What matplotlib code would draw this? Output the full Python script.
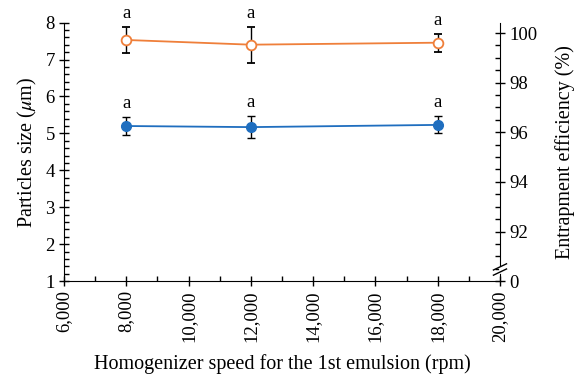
"""Particle size and entrapment efficiency vs homogenizer speed"""
import numpy as np
import matplotlib
matplotlib.use('Agg')
import matplotlib.pyplot as plt
from matplotlib.ticker import MultipleLocator, FuncFormatter

plt.rcParams['font.family'] = ['Liberation Serif', 'DejaVu Serif']
plt.rcParams['mathtext.fontset'] = 'stix'

speed = [8000, 12000, 18000]
size_mean = [5.20, 5.17, 5.23]
size_err = [0.24, 0.30, 0.23]
ee_mean = [99.72, 99.53, 99.61]
ee_err = [0.52, 0.72, 0.36]
letters_size = ['a', 'a', 'a']
letters_ee = ['a', 'a', 'a']

BLUE = '#1f6ebf'
ORANGE = '#ef7f3a'
FS = 13.5
LFS = 14.5

fig = plt.figure(figsize=(5.76, 3.83), dpi=100)
ax = fig.add_axes([0.111, 0.266, 0.757, 0.675])
ax2 = ax.twinx()

# particle size (left axis)
ax.errorbar(speed, size_mean, yerr=size_err, color=BLUE, ecolor='black',
            elinewidth=1, capsize=3, capthick=1, lw=1.3, marker='o', ms=7,
            mfc=BLUE, mec=BLUE, zorder=3)
for x, y, e, t in zip(speed, size_mean, size_err, letters_size):
    ax.annotate(t, (x, y + e), textcoords='offset points', xytext=(0, 6.5),
                ha='center', va='baseline', fontsize=FS)

# entrapment efficiency (right axis)
ax2.errorbar(speed, ee_mean, yerr=ee_err, color=ORANGE, ecolor='black',
             elinewidth=1, capsize=3, capthick=1, lw=1.3, marker='o', ms=7,
             mfc='white', mec=ORANGE, mew=1.3, zorder=3)
for x, y, e, t in zip(speed, ee_mean, ee_err, letters_ee):
    ax2.annotate(t, (x, y + e), textcoords='offset points', xytext=(0, 6.5),
                 ha='center', va='baseline', fontsize=FS)

ax.set_xlim(6000, 20000)
ax.set_ylim(1, 8)
ax2.set_ylim(90, 100.42)

ax.xaxis.set_major_locator(MultipleLocator(2000))
ax.xaxis.set_minor_locator(MultipleLocator(1000))
ax.xaxis.set_major_formatter(FuncFormatter(lambda v, p: f'{int(v):,}'))
ax.yaxis.set_major_locator(MultipleLocator(1))
ax.yaxis.set_minor_locator(MultipleLocator(0.2))
ax2.yaxis.set_major_locator(MultipleLocator(2))
ax2.yaxis.set_minor_locator(MultipleLocator(0.5))
ax2.yaxis.set_major_formatter(FuncFormatter(lambda v, p: '0' if v == 90 else f'{int(v)}'))

for a in (ax, ax2):
    a.tick_params(which='major', direction='inout', length=7, width=1,
                  labelsize=FS, pad=3)
    a.tick_params(which='minor', direction='in', length=3.5, width=1)
    a.spines['top'].set_visible(False)
ax.spines['right'].set_visible(False)
ax2.spines['left'].set_visible(False)
ax2.spines['bottom'].set_visible(False)
ax.tick_params(axis='x', labelrotation=90)

ax.set_xlabel('Homogenizer speed for the 1st emulsion (rpm)', fontsize=LFS, labelpad=9)
ax.set_ylabel(r'Particles size ($\mu$m)', fontsize=LFS, labelpad=5)
ax2.set_ylabel('Entrapment efficiency (%)', fontsize=LFS, labelpad=13)

# axis break marks on right spine
for dy in (0.035, 0.055):
    ax2.plot([0.985, 1.015], [dy - 0.012, dy + 0.012], transform=ax2.transAxes,
             color='black', lw=1, clip_on=False, zorder=5)
ax2.plot([1.0, 1.0], [0.037, 0.053], transform=ax2.transAxes,
         color='white', lw=2, clip_on=False, zorder=4)

fig.savefig('out.png', dpi=100)
